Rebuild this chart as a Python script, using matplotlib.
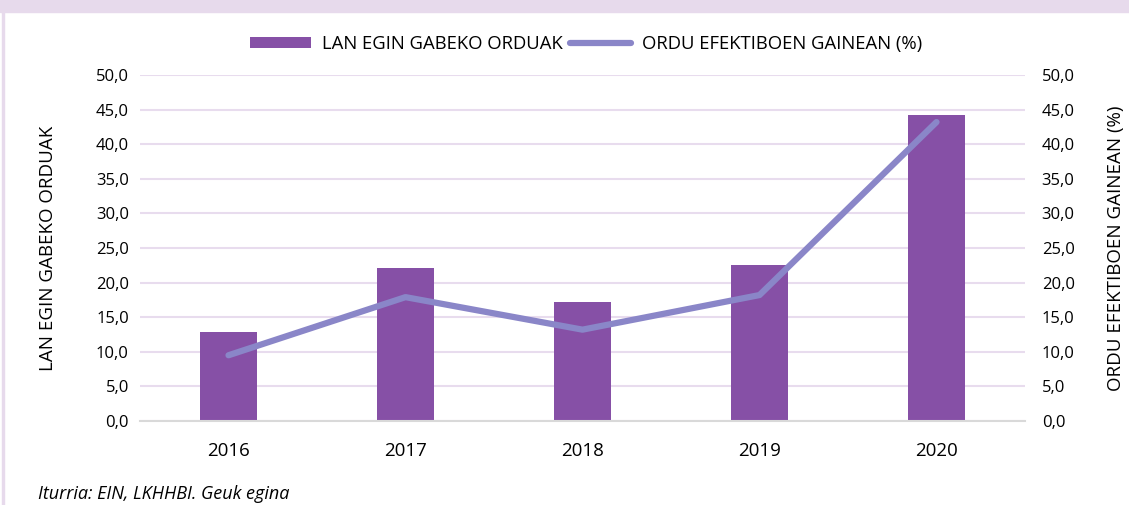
import matplotlib
matplotlib.use('Agg')
import matplotlib.pyplot as plt
import numpy as np

#
#--- chart data
#
years      = ['2016', '2017', '2018', '2019', '2020']
hours_lost = [12.9, 22.1, 17.2, 22.6, 44.2]
pct_hours  = [9.5, 17.9, 13.2, 18.2, 43.2]
yticks     = [0, 5, 10, 15, 20, 25, 30, 35, 40, 45, 50]

bar_color  = '#8650A6'
line_color = '#8A86C8'
grid_color = '#E8DCEE'

plt.rcParams['font.family'] = ['Open Sans', 'DejaVu Sans']
plt.rcParams['font.size'] = 12

comma_fmt = matplotlib.ticker.FuncFormatter(lambda v, p: ('%.1f' % v).replace('.', ','))

fig = plt.figure(figsize=(11.29, 5.05), dpi=100)
#
#--- top band and left border
#
fig.patches.append(plt.Rectangle((0, 1 - 12 / 505.), 1, 12 / 505., transform=fig.transFigure,
                                 color='#E7DAEC', zorder=0))
fig.patches.append(plt.Rectangle((2 / 1129., 0), 2 / 1129., 1, transform=fig.transFigure,
                                 color='#E7DAEC', zorder=0))

ax = fig.add_axes([140 / 1129., 1 - 421 / 505., 885 / 1129., 346 / 505.])
x = np.arange(len(years))

ax.bar(x, hours_lost, width=0.32, color=bar_color, zorder=2, label='LAN EGIN GABEKO ORDUAK')
ax.set_xlim(-0.5, len(years) - 0.5)
ax.set_ylim(0, 50)
ax.set_yticks(yticks)
ax.yaxis.set_major_formatter(comma_fmt)
ax.set_xticks(x)
ax.set_xticklabels(years, fontsize=13.5)
ax.grid(axis='y', color=grid_color, lw=1.5, zorder=0)
ax.tick_params(length=0, pad=8)
ax.tick_params(axis='x', pad=15)
for s in ['top', 'right', 'left']:
    ax.spines[s].set_visible(False)
ax.spines['bottom'].set_color('#D9D9D9')
ax.spines['bottom'].set_linewidth(1.5)
ax.set_ylabel('LAN EGIN GABEKO ORDUAK', labelpad=28, fontsize=13.5)

ax2 = ax.twinx()
ax2.plot(x, pct_hours, color=line_color, lw=4.5, solid_capstyle='round', zorder=3,
         label='ORDU EFEKTIBOEN GAINEAN (%)')
ax2.set_ylim(0, 50)
ax2.set_yticks(yticks)
ax2.yaxis.set_major_formatter(comma_fmt)
ax2.tick_params(length=0, pad=12)
for s in ['top', 'right', 'left', 'bottom']:
    ax2.spines[s].set_visible(False)
ax2.set_ylabel('ORDU EFEKTIBOEN GAINEAN (%)', labelpad=23, fontsize=13.5)

#
#--- legend
#
h1, l1 = ax.get_legend_handles_labels()
h2, l2 = ax2.get_legend_handles_labels()
fig.legend(h1 + h2, l1 + l2, loc='center', bbox_to_anchor=(586 / 1129., 1 - 44 / 505.), ncol=2,
           frameon=False, handlelength=3.3, handleheight=0.6, columnspacing=0.4, handletextpad=0.6,
           fontsize=13.3)

fig.text(38 / 1129., 1 - 494 / 505., 'Iturria: EIN, LKHHBI. Geuk egina', style='italic',
         fontsize=13, va='center')

fig.savefig('out.png', dpi=100)
